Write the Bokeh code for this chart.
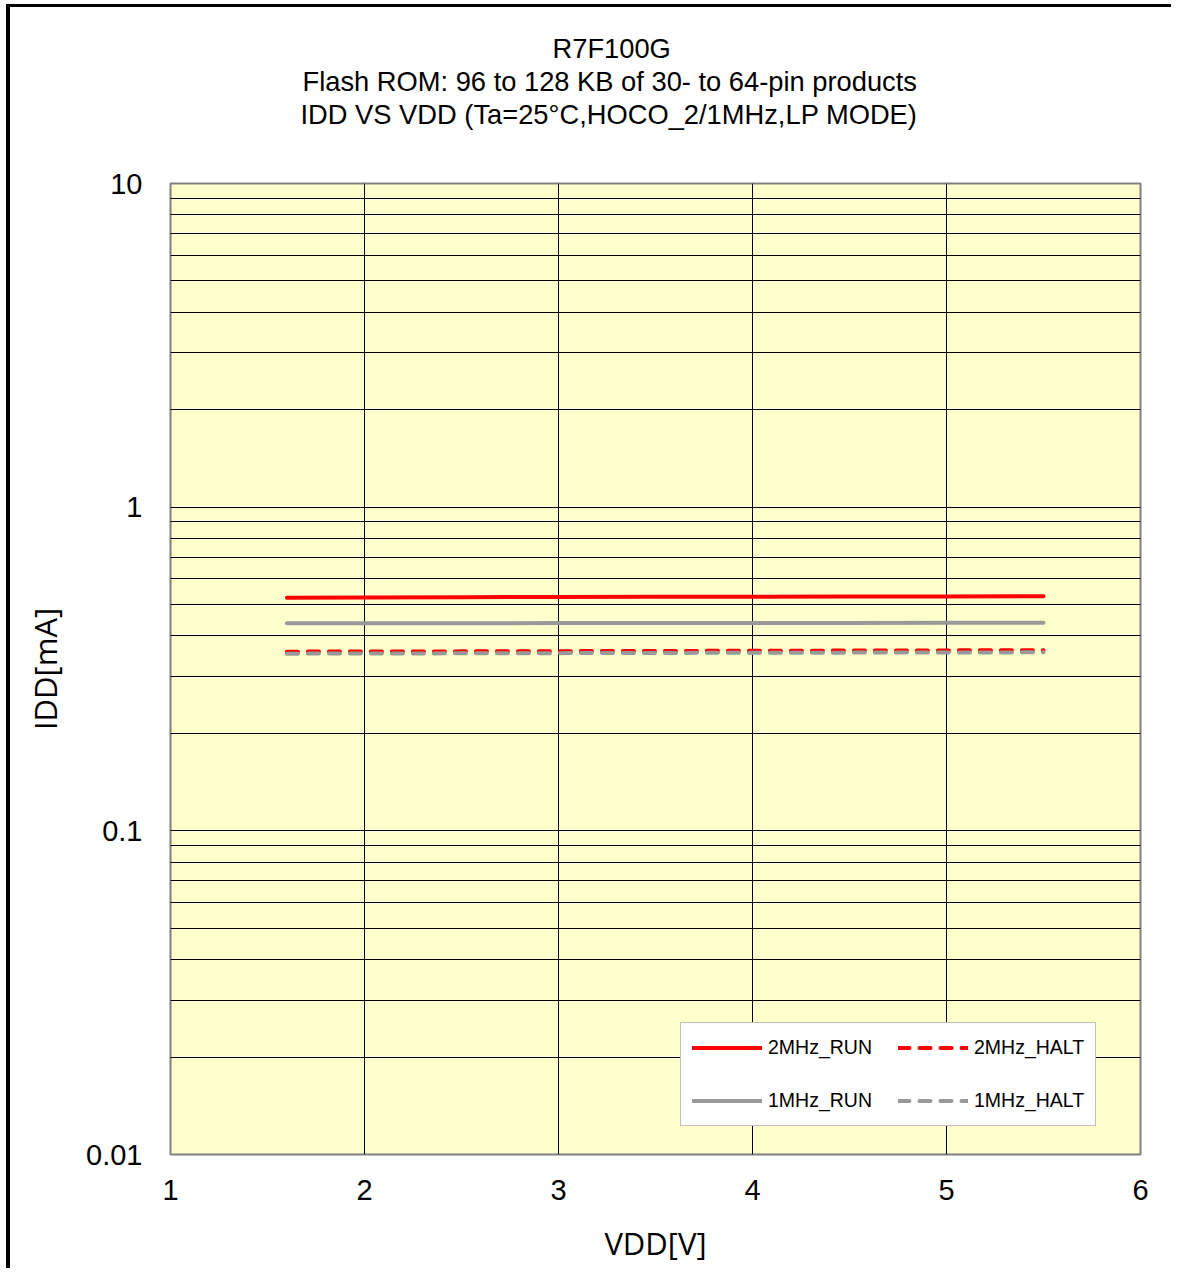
from bokeh.plotting import figure
from bokeh.models import (FixedTicker, CustomJSTickFormatter, Legend, LegendItem, Title)
from bokeh.embed import file_html
from bokeh.resources import INLINE

# ---- data ----
vdd = [1.6, 2.0, 2.5, 3.0, 3.5, 4.0, 4.5, 5.0, 5.5]
run_2mhz = [0.525, 0.526, 0.527, 0.528, 0.529, 0.529, 0.530, 0.530, 0.531]
run_1mhz = [0.4375, 0.438, 0.438, 0.4385, 0.4385, 0.439, 0.439, 0.4395, 0.4395]
halt_2mhz = [0.3578, 0.358, 0.3585, 0.359, 0.3595, 0.360, 0.3605, 0.361, 0.3615]
halt_1mhz = [0.3527, 0.353, 0.3535, 0.354, 0.3545, 0.355, 0.3553, 0.3557, 0.356]

x_ticks = [1, 2, 3, 4, 5, 6]
y_ticks = [0.01, 0.1, 1, 10]
y_minor = [m * d for d in (0.01, 0.1, 1) for m in range(2, 10)]

title_lines = ["R7F100G",
               "Flash ROM: 96 to 128 KB of 30- to 64-pin products",
               "IDD VS VDD (Ta=25\u00b0C,HOCO_2/1MHz,LP MODE)"]
title_offsets = [382, 132, 130]

FONT = "Liberation Sans"

p = figure(width=1165, height=1264, x_range=(1, 6), y_range=(0.01, 10),
           y_axis_type="log", output_backend="svg", toolbar_location=None,
           min_border_left=160, min_border_top=176, min_border_right=35,
           min_border_bottom=117)
p.margin = (7, 0, 0, 10)
p.styles = {"box-shadow": "-4px -3px 0 0 black"}

p.background_fill_color = "#FFFFCC"
p.border_fill_color = "white"
p.outline_line_color = "#808080"
p.outline_line_width = 2

# axes
p.xaxis.ticker = FixedTicker(ticks=x_ticks)
p.yaxis.ticker = FixedTicker(ticks=y_ticks, minor_ticks=y_minor)
p.yaxis.formatter = CustomJSTickFormatter(code="return tick.toString();")
for ax in (p.xaxis[0], p.yaxis[0]):
    ax.axis_line_color = None
    ax.major_tick_line_color = None
    ax.minor_tick_line_color = None
    ax.major_label_text_font = FONT
    ax.major_label_text_font_size = "29px"
    ax.major_label_text_color = "black"
    ax.axis_label_text_font = "Open Sans"
    ax.axis_label_text_font_size = "31px"
    ax.axis_label_text_font_style = "normal"
    ax.axis_label_text_color = "black"
p.xaxis.axis_label = "VDD[V]"
p.yaxis.axis_label = "IDD[mA]"
p.xaxis.major_label_standoff = 19
p.yaxis.major_label_standoff = 22
p.xaxis.axis_label_standoff = 19
p.yaxis.axis_label_standoff = 17

# grids
p.xgrid.grid_line_color = "black"
p.xgrid.grid_line_width = 1
p.ygrid.grid_line_color = "black"
p.ygrid.grid_line_width = 1
p.ygrid.minor_grid_line_color = "black"
p.ygrid.minor_grid_line_width = 1

DASH = "11 10"
r1 = p.line(vdd, run_2mhz, line_color="#FF0000", line_width=4, line_cap="round")
r2 = p.line(vdd, run_1mhz, line_color="#999999", line_width=4, line_cap="round")
r3 = p.line(vdd, halt_2mhz, line_color="#FF0000", line_width=4, line_cap="round",
            line_dash=DASH)
r4 = p.line(vdd, halt_1mhz, line_color="#999999", line_width=4, line_cap="round",
            line_dash=DASH)

legend = Legend(items=[LegendItem(label="2MHz_RUN", renderers=[r1]),
                       LegendItem(label="1MHz_RUN", renderers=[r2]),
                       LegendItem(label="2MHz_HALT", renderers=[r3]),
                       LegendItem(label="1MHz_HALT", renderers=[r4])],
                ncols=2, location=(510, 28))
legend.padding = 11
legend.spacing = 26
legend.glyph_width = 70
legend.glyph_height = 27
legend.label_height = 27
legend.label_standoff = 6
legend.label_text_font = FONT
legend.label_text_font_size = "19.5px"
legend.label_text_color = "black"
legend.border_line_color = "#808080"
legend.border_line_width = 1
legend.background_fill_color = "white"
legend.background_fill_alpha = 1
legend.margin = 0
p.add_layout(legend, "center")

# spacer between the frame and the title block
p.add_layout(Title(text=" ", text_font_size="10px", standoff=41), "above")
# title lines: nearest the frame first
for i in (2, 1, 0):
    p.add_layout(Title(text=title_lines[i], align="left", offset=title_offsets[i],
                       standoff=0, text_font=FONT,
                       text_font_size="27.3px", text_font_style="normal",
                       text_color="black"), "above")

open("out.html", "w").write(file_html(p, INLINE))
